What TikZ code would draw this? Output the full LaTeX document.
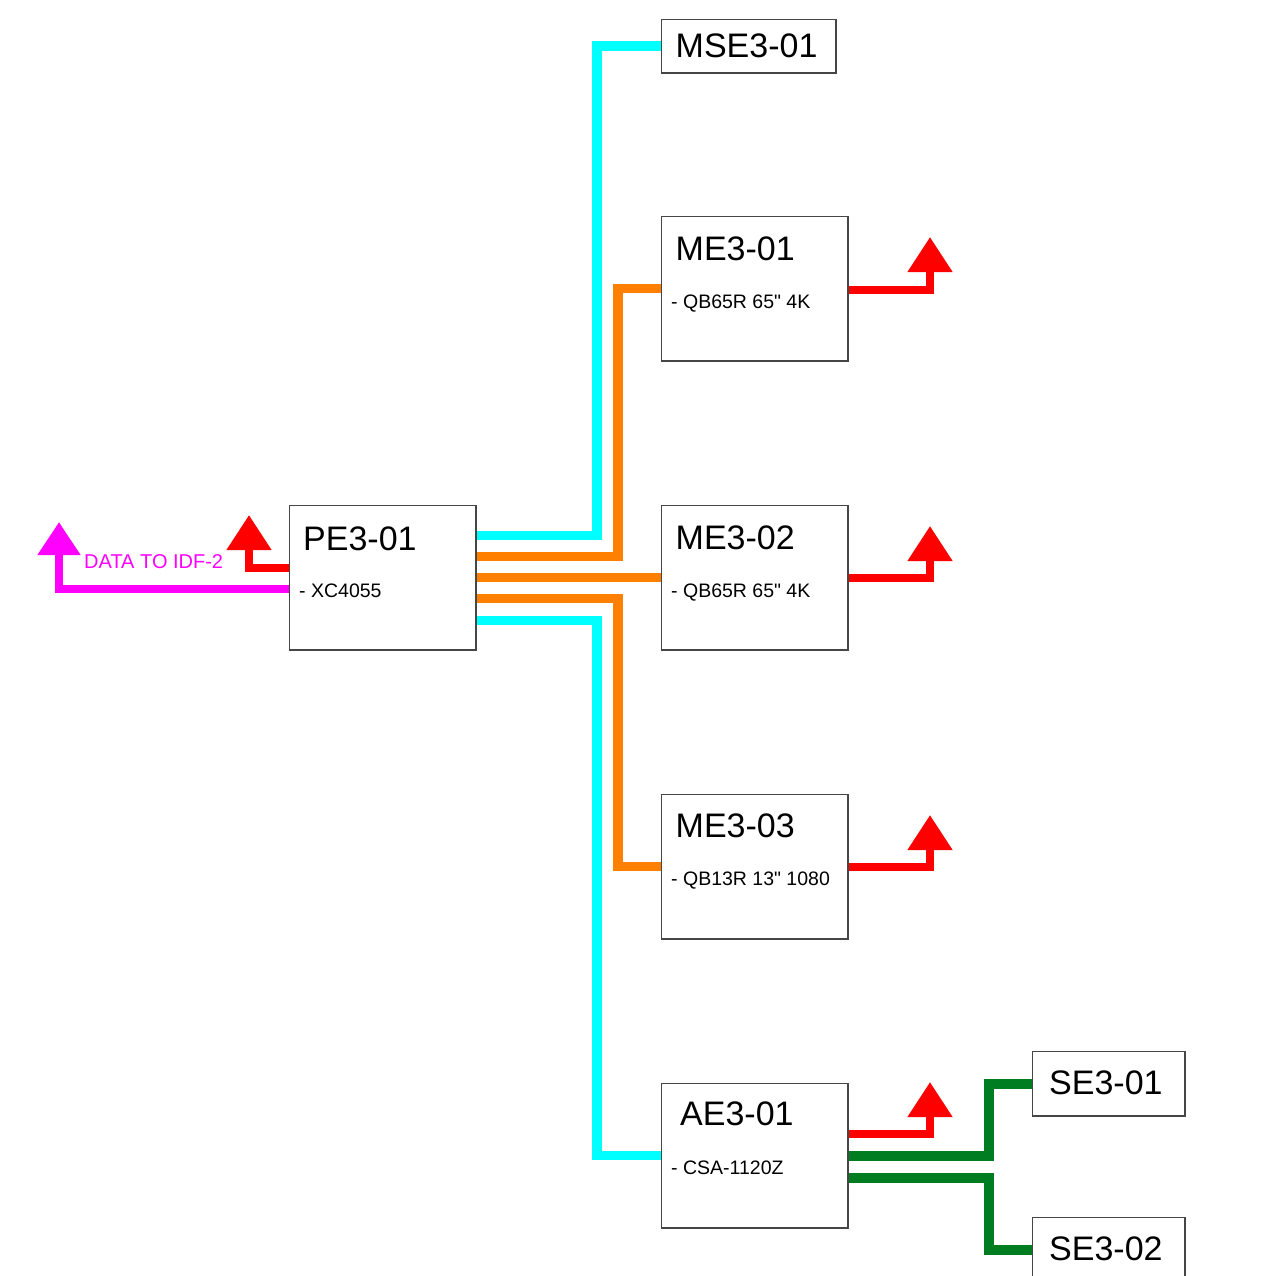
\documentclass[tikz,border=0pt]{standalone}
\usepackage{fontspec}
\setmainfont{Liberation Sans}[Ligatures=TeXOff]
\usetikzlibrary{arrows.meta,calc}
\definecolor{cabcyan}{RGB}{0,255,255}
\definecolor{caborange}{RGB}{255,128,0}
\definecolor{cabred}{RGB}{255,0,0}
\definecolor{cabmag}{RGB}{255,0,255}
\definecolor{cabgreen}{RGB}{0,125,32}
\definecolor{boxline}{RGB}{70,70,70}
\tikzset{
  devbox/.style={draw=boxline, line width=1pt, fill=white, anchor=north west, inner sep=0pt},
  bigbox/.style={devbox, minimum width=186pt, minimum height=144pt},
  titletext/.style={anchor=base west, inner sep=0pt, font=\fontsize{34}{40}\selectfont},
  subtext/.style={anchor=base west, inner sep=0pt, font=\fontsize{19.5}{23}\selectfont},
  cyanline/.style={draw=cabcyan, line width=9.5pt},
  orangeline/.style={draw=caborange, line width=9.5pt},
  greenline/.style={draw=cabgreen, line width=10pt},
  redarrow/.style={draw=cabred, line width=8pt, -{Triangle[length=35pt,width=43pt]}},
  magarrow/.style={draw=cabmag, line width=8pt, -{Triangle[length=33pt,width=41pt]}},
}
\begin{document}
\begin{tikzpicture}[x=1pt,y=-1pt]
\useasboundingbox (0,0) rectangle (1280,1275);
\clip (0,0) rectangle (1280,1275);
% boxes (coordinates first, drawn later)
\node[bigbox] (PE) at (289,505) {};
\node[devbox, minimum width=174pt, minimum height=53pt] (MSE) at (661,19) {};
\node[bigbox] (ME1) at (661,216) {};
\node[bigbox] (ME2) at (661,505) {};
\node[bigbox] (ME3) at (661,794) {};
\node[bigbox] (AE) at (661,1083) {};
\node[devbox, minimum width=152pt, minimum height=64pt] (SE1) at (1032,1051) {};
\node[devbox, minimum width=152pt, minimum height=64pt] (SE2) at (1032,1217) {};
% connectors
\draw[cyanline] ($(PE.east)+(0,-42)$) -| ([xshift=-64pt]MSE.west) -- (MSE.west);
\draw[orangeline] ($(PE.east)+(0,-21)$) -| ([xshift=-43pt]ME1.west) -- (ME1.west);
\draw[orangeline] (PE.east) -- (ME2.west);
\draw[orangeline] ($(PE.east)+(0,21)$) -| ([xshift=-43pt]ME3.west) -- (ME3.west);
\draw[cyanline] ($(PE.east)+(0,43)$) -| ([xshift=-64pt]AE.west) -- (AE.west);
\coordinate (PEup) at (249,515);
\coordinate (IDF) at (59,522);
\coordinate (ME1up) at (930,237);
\coordinate (ME2up) at (930,526);
\coordinate (ME3up) at (930,815);
\coordinate (AEup) at (930,1082);
\draw[redarrow] ($(PE.west)+(0,-10)$) -| (PEup);
\draw[magarrow] ($(PE.west)+(0,11)$) -| (IDF);
\draw[redarrow] ($(ME1.east)+(0,1)$) -| (ME1up);
\draw[redarrow] (ME2.east) -| (ME2up);
\draw[redarrow] (ME3.east) -| (ME3up);
\draw[redarrow] ($(AE.east)+(0,-22)$) -| (AEup);
\draw[greenline] (AE.east) -| ([xshift=-43pt]SE1.west) -- (SE1.west);
\draw[greenline] ($(AE.east)+(0,22)$) -| ([xshift=-43pt]SE2.west) -- (SE2.west);
% redraw box outlines on top
\foreach \b in {PE,MSE,ME1,ME2,ME3,AE,SE1,SE2}
  \draw[boxline, line width=1pt] (\b.north west) rectangle (\b.south east);
% texts
\node[titletext] (PEt) at (303,550) {PE3-01};
\node[subtext] (PEs) at (299,597) {- XC4055};
\node[titletext] (MSEt) at (675.5,57) {MSE3-01};
\node[titletext] (ME1t) at (675.5,260) {ME3-01};
\node[subtext] (ME1s) at (671,308) {- QB65R 65" 4K};
\node[titletext] (ME2t) at (675.5,549) {ME3-02};
\node[subtext] (ME2s) at (671,597) {- QB65R 65" 4K};
\node[titletext] (ME3t) at (675.5,837) {ME3-03};
\node[subtext] (ME3s) at (671,885) {- QB13R 13" 1080};
\node[titletext] (AEt) at (680,1125) {AE3-01};
\node[subtext] (AEs) at (671,1174) {- CSA-1120Z};
\node[titletext] (SE1t) at (1049,1094) {SE3-01};
\node[titletext] (SE2t) at (1049,1260) {SE3-02};
\node[anchor=base west, inner sep=0pt, text=cabmag, font=\fontsize{20}{24}\selectfont] (IDFt) at (84,568) {DATA TO IDF-2};
\end{tikzpicture}
\end{document}
